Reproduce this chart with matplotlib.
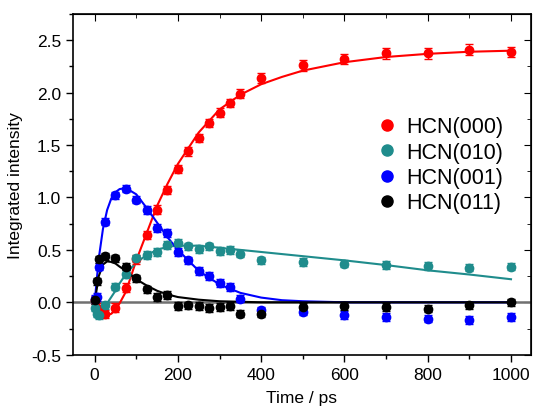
import matplotlib
matplotlib.use("Agg")
import matplotlib.pyplot as plt
from matplotlib.ticker import MultipleLocator
from matplotlib.lines import Line2D

plt.rcParams['font.family'] = ['Liberation Sans', 'DejaVu Sans']

# measured data
t = [0, 5, 10, 25, 50, 75, 100, 125, 150, 175, 200, 225, 250, 275, 300, 325,
     350, 400, 500, 600, 700, 800, 900, 1000]
hcn000 = [0.02, -0.05, -0.08, -0.11, -0.05, 0.14, 0.41, 0.64, 0.885, 1.07, 1.27, 1.44,
          1.57, 1.71, 1.81, 1.90, 1.99, 2.14, 2.26, 2.32, 2.375, 2.375, 2.41, 2.39]
hcn010 = [-0.05, -0.11, -0.12, -0.03, 0.15, 0.27, 0.42, 0.45, 0.48, 0.545, 0.57, 0.535,
          0.51, 0.535, 0.49, 0.50, 0.465, 0.40, 0.385, 0.37, 0.355, 0.345, 0.33, 0.34]
hcn001 = [0.03, 0.05, 0.34, 0.77, 1.02, 1.085, 0.98, 0.88, 0.71, 0.66, 0.48, 0.40,
          0.30, 0.25, 0.185, 0.147, 0.035, -0.076, -0.09, -0.12, -0.14, -0.155, -0.17, -0.14]
hcn011 = [0.02, 0.20, 0.41, 0.44, 0.42, 0.34, 0.23, 0.125, 0.05, 0.07, -0.035, -0.03,
          -0.035, -0.055, -0.045, -0.035, -0.11, -0.11, -0.045, -0.035, -0.045, -0.06, -0.03, 0.0]
err000 = [0.04] * 17 + [0.05] * 7
err_other = [0.035] * 24

# fitted curves
tf = [0, 10, 20, 30, 40, 50, 60, 75, 100, 125, 150, 175, 200, 250, 300, 350,
      400, 450, 500, 600, 700, 800, 900, 1000]
fit000 = [0.0, -0.06, -0.10, -0.12, -0.11, -0.07, -0.01, 0.10, 0.40, 0.66, 0.92, 1.13,
          1.32, 1.62, 1.84, 1.98, 2.08, 2.15, 2.21, 2.29, 2.34, 2.37, 2.39, 2.40]
fit010 = [0.0, -0.09, -0.06, -0.01, 0.05, 0.11, 0.18, 0.27, 0.38, 0.45, 0.50, 0.53,
          0.54, 0.54, 0.52, 0.50, 0.48, 0.46, 0.44, 0.40, 0.355, 0.305, 0.265, 0.22]
fit001 = [0.0, 0.42, 0.70, 0.88, 0.99, 1.05, 1.08, 1.09, 1.03, 0.90, 0.76, 0.62,
          0.50, 0.30, 0.17, 0.09, 0.045, 0.02, 0.01, 0.0, 0.0, 0.0, 0.0, 0.0]
fit011 = [0.0, 0.25, 0.36, 0.39, 0.385, 0.37, 0.34, 0.30, 0.22, 0.16, 0.11, 0.075,
          0.05, 0.025, 0.01, 0.005, 0.0, 0.0, 0.0, 0.0, 0.0, 0.0, 0.0, 0.0]

labels = ['HCN(000)', 'HCN(010)', 'HCN(001)', 'HCN(011)']
colors = ['#ff0000', '#1f8c8c', '#0000ff', '#000000']

fig = plt.figure(figsize=(5.35, 4.10), dpi=100)
ax = fig.add_axes([0.1364, 0.1324, 0.8561, 0.831])

ax.axhline(0, color='#707070', lw=1.8, zorder=1)

series = [(hcn000, err000, fit000), (hcn010, err_other, fit010),
          (hcn001, err_other, fit001), (hcn011, err_other, fit011)]
for (y, e, f), lab, c in zip(series, labels, colors):
    ax.plot(tf, f, color=c, lw=1.5, zorder=2)
for (y, e, f), lab, c in zip(series, labels, colors):
    ax.errorbar(t, y, yerr=e, fmt='o', color=c, ms=6, elinewidth=1.0,
                capsize=3, capthick=1.0, label=lab, zorder=3)

ax.set_xlim(-52, 1048)
ax.set_ylim(-0.5, 2.75)
ax.xaxis.set_major_locator(MultipleLocator(200))
ax.xaxis.set_minor_locator(MultipleLocator(100))
ax.yaxis.set_major_locator(MultipleLocator(0.5))
ax.yaxis.set_minor_locator(MultipleLocator(0.25))
ax.tick_params(which='both', direction='out', top=False, right=False, labelsize=12.5, width=1.0)
ax.tick_params(which='major', length=5)
ax.tick_params(which='minor', length=3)
ax.set_yticks([-0.5, 0.0, 0.5, 1.0, 1.5, 2.0, 2.5])
ax.set_yticklabels(['-0.5', '0.0', '0.5', '1.0', '1.5', '2.0', '2.5'])

# inward ticks on top and right
axt = ax.secondary_xaxis('top')
axt.xaxis.set_major_locator(MultipleLocator(200))
axt.xaxis.set_minor_locator(MultipleLocator(100))
axt.tick_params(which='both', direction='in', labeltop=False)
axt.tick_params(which='major', length=5)
axt.tick_params(which='minor', length=3)
axr = ax.secondary_yaxis('right')
axr.yaxis.set_major_locator(MultipleLocator(0.5))
axr.yaxis.set_minor_locator(MultipleLocator(0.25))
axr.tick_params(which='both', direction='in', labelright=False)
axr.tick_params(which='major', length=5)
axr.tick_params(which='minor', length=3)

for s in ax.spines.values():
    s.set_linewidth(1.2)

ax.set_xlabel('Time / ps', fontsize=12.5, labelpad=6)
ax.set_ylabel('Integrated intensity', fontsize=12.5, labelpad=6)

hs = [Line2D([], [], marker='o', ls='', color=c, ms=8) for c in colors]
leg = ax.legend(hs, labels, loc='center left', bbox_to_anchor=(0.644, 0.557),
                frameon=False, fontsize=15.5, handlelength=0.8, handletextpad=0.5,
                labelspacing=0.2, borderpad=0)

fig.savefig('out.png', dpi=100)
